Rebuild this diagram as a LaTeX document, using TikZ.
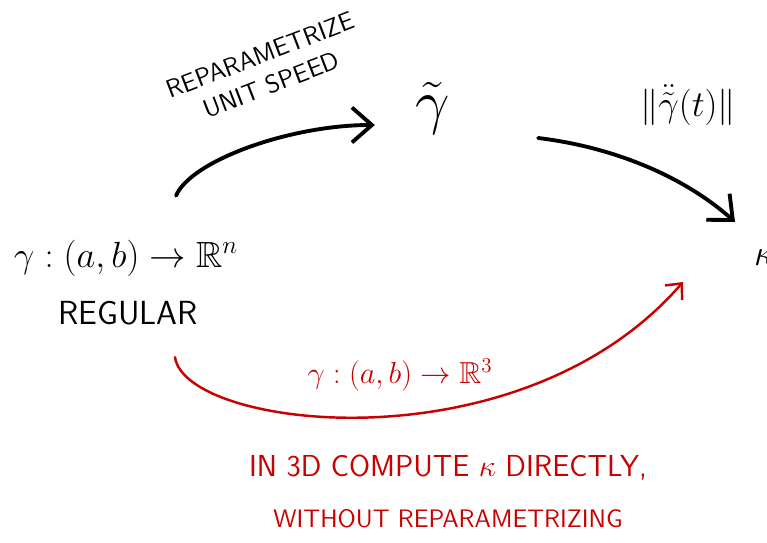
\documentclass[tikz,border=0pt]{standalone}
\usepackage{amssymb}
\usepackage{xcolor}
\usetikzlibrary{arrows.meta, calc, positioning}
\definecolor{inkred}{RGB}{200,0,0}
\tikzstyle{arrow} = [line width=2.2pt, line cap=round, -{Straight Barb[length=4mm,width=7mm,line width=2.2pt]}]
\tikzstyle{redarrow} = [line width=1.4pt, draw=inkred, line cap=round, -{Straight Barb[length=2.5mm,width=4.5mm,line width=1.4pt]}]
\tikzstyle{ink} = [font=\LARGE\sffamily, inner sep=1pt]
\tikzstyle{redink} = [ink, text=inkred]

\begin{document}
\begin{tikzpicture}[x=0.02cm, y=-0.02cm]
\useasboundingbox (0,0) rectangle (767,543);

% Curve on the left
\node[ink, font=\huge] (gamma) at (126,258) {$\gamma : (a,b) \to \mathbb{R}^n$};
\node[ink, scale=1.1] (regular) at (128,313) {REGULAR};

% Unit speed curve and curvature
\node[ink, font=\Huge, scale=1.4] (gt) at (433,108) {$\tilde{\gamma}$};
\node[ink, font=\huge] (norm) at (688,105) {$\|\ddot{\tilde{\gamma}}(t)\|$};
\node[ink, font=\huge, anchor=west] (kappa) at (752,258) {$\kappa$};

% Label of the top arrow
\node[ink, font=\Large\sffamily, align=center, rotate=21] (reparam) at (266,70) {REPARAMETRIZE\\UNIT SPEED};

% Top path
\draw[arrow] ([shift={(50,-42)}]gamma.north) .. controls +(15,-35) and +(-85,0) .. ([shift={(-38,17)}]gt.west);
\draw[arrow] ([shift={(85,30)}]gt.east) .. controls +(82,10) and +(-47,-42) .. ([shift={(-17,-36)}]kappa.west);

% Direct path in 3D
\draw[redarrow] ([shift={(47,30)}]regular.south) .. controls +(10,72) and +(-163,188) .. ([shift={(-69,24)}]kappa.west);
\node[redink, font=\LARGE\sffamily] (r3) at (400,375) {$\gamma : (a,b) \to \mathbb{R}^3$};

% Note
\node[redink, font=\LARGE\sffamily] (note1) at (448,468) {IN 3D COMPUTE $\kappa$ DIRECTLY,};
\node[redink, font=\Large\sffamily, below=14pt of note1] (note2) {WITHOUT REPARAMETRIZING};

\end{tikzpicture}
\end{document}
